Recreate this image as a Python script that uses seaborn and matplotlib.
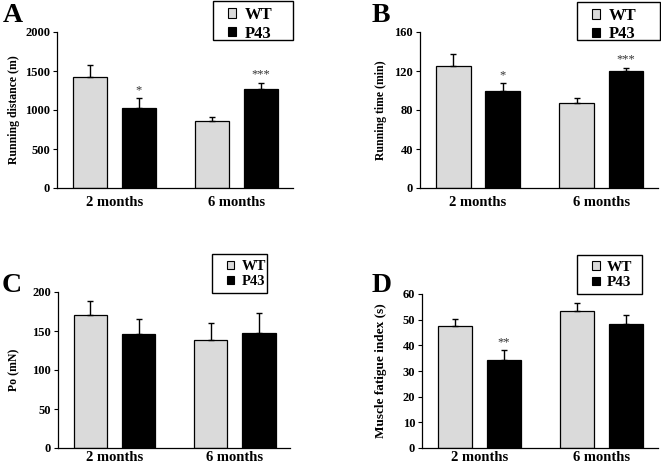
import pandas as pd
import seaborn as sns
import matplotlib.pyplot as plt
import matplotlib.transforms as mtransforms
from matplotlib.patches import Patch, Rectangle

# Data (means and upward SEM bars).
months = ["2 months", "6 months"]
genotypes = ["WT", "P43"]

distance_wt = [1420, 860]
distance_wt_sem = [160, 55]
distance_p43 = [1030, 1275]
distance_p43_sem = [120, 73]

time_wt = [125.5, 87]
time_wt_sem = [11.5, 5]
time_p43 = [99, 119.5]
time_p43_sem = [8.5, 3.5]

po_wt = [170, 139]
po_wt_sem = [18, 21]
po_p43 = [146, 147]
po_p43_sem = [19, 26]

fatigue_wt = [47.4, 53.4]
fatigue_wt_sem = [3.0, 3.1]
fatigue_p43 = [34.2, 48.5]
fatigue_p43_sem = [3.8, 3.5]

stars_distance = ["*", "***"]
stars_time = ["*", "***"]
stars_po = ["", ""]
stars_fatigue = ["**", ""]

WT_COLOR = "#dadada"
P43_COLOR = "#000000"
W, H = 661, 468


def px_box(x0, x1, y0, y1):
    """Pixel box (top-left origin) -> figure fraction rect."""
    return [x0 / W, 1 - y1 / H, (x1 - x0) / W, (y1 - y0) / H]


def panel(fig, box, letter, letter_xy, legend_box, legend_size, ylabel, ylabel_x,
          ylabel_size, xpad, ymax, ystep, wt, wt_sem, p43, p43_sem, stars):
    ax = fig.add_axes(px_box(*box))
    df = pd.DataFrame({
        "month": months * 2,
        "genotype": ["WT"] * 2 + ["P43"] * 2,
        "value": wt + p43,
    })
    sns.barplot(data=df, x="month", y="value", hue="genotype",
                hue_order=genotypes, order=months,
                palette={"WT": WT_COLOR, "P43": P43_COLOR},
                edgecolor="black", linewidth=0.9, width=0.8, gap=0.3,
                errorbar=None, legend=False, ax=ax)

    sems = [wt_sem, p43_sem]
    bar_groups = list(ax.containers)
    for i, cont in enumerate(bar_groups):
        xs = [p.get_x() + p.get_width() / 2 for p in cont.patches]
        hs = [p.get_height() for p in cont.patches]
        ax.errorbar(xs, hs, yerr=[[0] * len(hs), sems[i]], fmt="none",
                    ecolor="black", elinewidth=1, capsize=2.5, capthick=1,
                    zorder=1)
        if i == 1:
            for x, h, s, st in zip(xs, hs, sems[i], stars):
                if st:
                    ax.text(x, h + s + ymax * 0.015, st, ha="center",
                            va="bottom", fontsize=9, color="#333333")

    ax.set_xlim(-0.47, 1.46)
    ax.set_ylim(0, ymax)
    ax.set_yticks(range(0, ymax + 1, ystep))
    ax.set_xlabel("")
    ax.set_ylabel(ylabel, fontsize=ylabel_size, fontweight="bold")
    ax.yaxis.set_label_coords(
        ylabel_x / W, 0.5,
        transform=mtransforms.blended_transform_factory(fig.transFigure, ax.transAxes))
    ax.tick_params(axis="y", labelsize=9, length=3, width=0.8, pad=2)
    ax.tick_params(axis="x", labelsize=10.5, length=0, pad=xpad)
    for lab in ax.get_xticklabels() + ax.get_yticklabels():
        lab.set_fontweight("bold")
    sns.despine(ax=ax)
    for s in ("left", "bottom"):
        ax.spines[s].set_linewidth(0.9)
        ax.spines[s].set_color("black")

    fig.text(letter_xy[0] / W, 1 - letter_xy[1] / H, letter, fontsize=20,
             fontweight="bold", ha="left", va="top")

    # Legend box drawn separately so the frame can be sized like the original.
    lx0, lx1, ly0, ly1 = legend_box
    fig.add_artist(Rectangle((lx0 / W, 1 - ly1 / H), (lx1 - lx0) / W, (ly1 - ly0) / H,
                             transform=fig.transFigure, fill=False,
                             edgecolor="black", linewidth=1))
    handles = [Patch(facecolor=WT_COLOR, edgecolor="black", linewidth=0.8, label="WT"),
               Patch(facecolor=P43_COLOR, edgecolor="black", linewidth=0.8, label="P43")]
    fig.legend(handles=handles, loc="upper left",
               bbox_to_anchor=((lx0 + 15) / W, 1 - (ly0 + 6) / H),
               prop={"size": legend_size, "weight": "bold"}, frameon=False,
               handlelength=0.5, handleheight=0.5, handletextpad=0.5,
               borderpad=0, labelspacing=0.15, borderaxespad=0,
               labelcolor="black")
    return ax


if __name__ == "__main__":
    sns.set_style("ticks")
    plt.rcParams["font.family"] = ["Liberation Serif", "DejaVu Serif"]
    for key in ("text.color", "axes.labelcolor", "xtick.color", "ytick.color"):
        plt.rcParams[key] = "black"
    fig = plt.figure(figsize=(6.61, 4.68), dpi=100)

    panel(fig, (57, 293, 32, 188), "A", (3, 3), (213, 293, 1, 40), 12,
          "Running distance (m)", 20, 8.5, 6, 2000, 500,
          distance_wt, distance_wt_sem, distance_p43, distance_p43_sem, stars_distance)
    panel(fig, (420, 658, 32, 188), "B", (372, 3), (577, 660, 2, 40), 12,
          "Running time (min)", 387, 8.5, 6, 160, 40,
          time_wt, time_wt_sem, time_p43, time_p43_sem, stars_time)
    panel(fig, (58, 290, 292, 448), "C", (2, 273), (212, 267, 254, 293), 10.5,
          "Po (mN)", 20, 8.5, 2, 200, 50,
          po_wt, po_wt_sem, po_p43, po_p43_sem, stars_po)
    panel(fig, (422, 658, 294, 448), "D", (372, 273), (577, 642, 255, 294), 11,
          "Muscle fatigue index (s)", 387, 9.5, 2, 60, 10,
          fatigue_wt, fatigue_wt_sem, fatigue_p43, fatigue_p43_sem, stars_fatigue)

    fig.savefig("out.png", dpi=100)
